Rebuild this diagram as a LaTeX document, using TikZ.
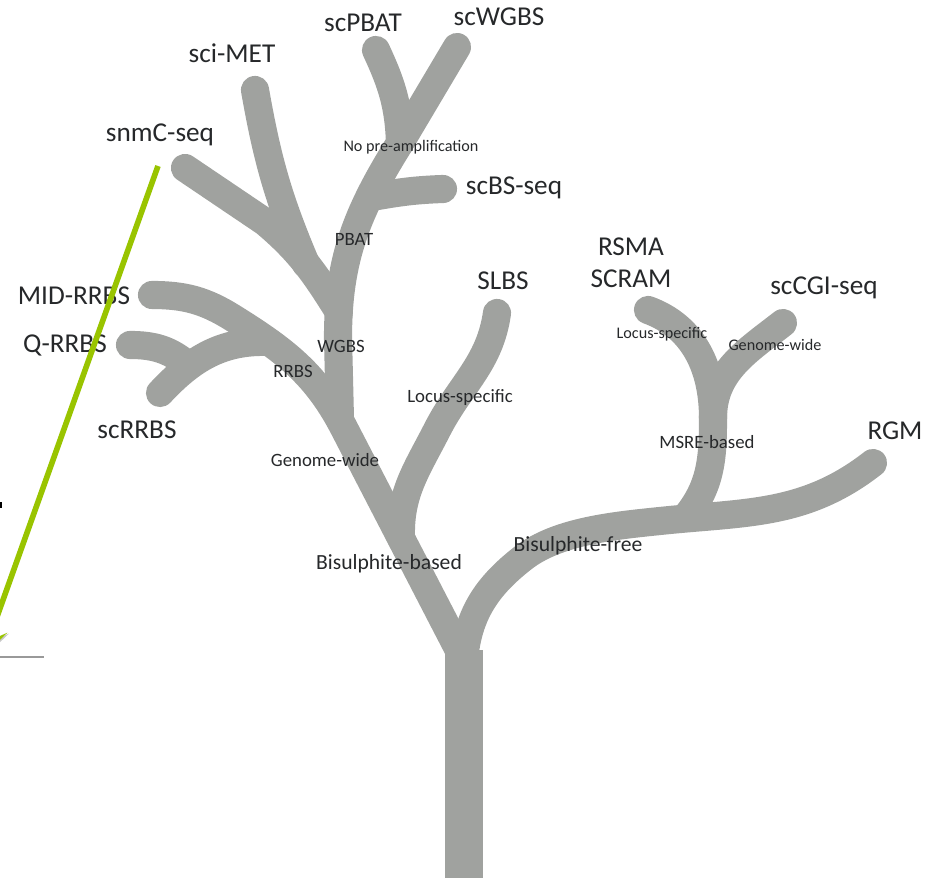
\documentclass[tikz,border=0pt]{standalone}
\usepackage{fontspec}
\usepackage{tikz}
\usetikzlibrary{arrows.meta}
\setmainfont{Carlito}

\definecolor{barkgrey}{HTML}{A0A29F}
\definecolor{inkgrey}{HTML}{26282A}
\definecolor{pointergreen}{HTML}{99C400}

\tikzset{
	branch/.style={draw=barkgrey, line width=16pt, line cap=round},
	trunk/.style={draw=barkgrey, line width=21.5pt},
	leaf/.style={color=inkgrey, inner sep=0pt, font=\fontsize{15.5}{18}\selectfont},
	fork/.style={color=inkgrey, inner sep=0pt, font=\fontsize{12.3}{15}\selectfont},
	stage/.style={color=inkgrey, inner sep=0pt, font=\fontsize{10.7}{13}\selectfont},
	minor/.style={color=inkgrey, inner sep=0pt, font=\fontsize{9.2}{11}\selectfont},
	pointer/.style={draw=pointergreen, line width=3.2pt, -{Stealth[length=17pt,width=17pt,inset=8pt]},
		preaction={draw=black!22, transform canvas={shift={(0.9pt,-0.5pt)}}}}
}

\begin{document}
\begin{tikzpicture}[x=0.02cm, y=0.02cm]
	\clip (0,0) rectangle (937,878);

	% trunk and first split
	\coordinate (root) at (464,0);
	\coordinate (crown) at (464,228);
	\coordinate (split) at (464,218);
	\coordinate (gwjoin) at (345,448);
	\coordinate (midbend) at (233,560);
	\coordinate (midrrbs) at (152,583);
	\draw[trunk](root) -- (crown);
	\draw[branch](split) -- (gwjoin) to [out=117,in=328](midbend) to [out=148,in=0](midrrbs);

	% locus-specific side shoot
	\coordinate (locusjoin) at (401,340);
	\coordinate (locusmid) at (437,448);
	\coordinate (slbs) at (497,565);
	\draw[branch](locusjoin) to [out=92,in=243](locusmid) to [out=63,in=262](slbs);

	% WGBS stem
	\coordinate (wgbsjoin) at (340,458);
	\coordinate (wgbsbend) at (338,540);
	\coordinate (nopreamp) at (400,735);
	\coordinate (scwgbs) at (457,831);
	\draw[branch](wgbsjoin) -- (wgbsbend) to [out=90,in=238](nopreamp) -- (scwgbs);

	% scPBAT and scBS-seq
	\coordinate (scpbat) at (376,828);
	\coordinate (bsjoin) at (372,681);
	\coordinate (scbsseq) at (443,689);
	\draw[branch](nopreamp) to [out=92,in=295](scpbat);
	\draw[branch](bsjoin) to [out=10,in=182](scbsseq);

	% snmC-seq and sci-MET
	\coordinate (snmcjoin) at (339,566);
	\coordinate (snmcbend) at (265,656);
	\coordinate (snmcseq) at (185,710);
	\coordinate (scimetjoin) at (306,614);
	\coordinate (scimet) at (255,788);
	\draw[branch](snmcjoin) to [out=122,in=320](snmcbend) -- (snmcseq);
	\draw[branch](scimetjoin) to [out=113,in=280](scimet);

	% RRBS side shoots
	\coordinate (rrbsjoin) at (269,536);
	\coordinate (scrrbs) at (160,485);
	\coordinate (qjoin) at (188,513);
	\coordinate (qrrbs) at (130,533);
	\draw[branch](rrbsjoin) to [out=178,in=47](scrrbs);
	\draw[branch](qjoin) to [out=140,in=0](qrrbs);

	% bisulphite-free arm
	\coordinate (freecurve) at (523,320);
	\coordinate (freebend) at (660,357);
	\coordinate (rgm) at (873,415);
	\coordinate (msrejoin) at (685,360);
	\coordinate (msremid) at (713,460);
	\coordinate (locustip) at (648,568);
	\coordinate (sccgiseq) at (783,555);
	\draw[branch](split) to [out=85,in=218](freecurve) to [out=38,in=186,looseness=0.8](freebend) to [out=6,in=218](rgm);
	\draw[branch](msrejoin) to [out=50,in=270](msremid) to [out=90,in=340](locustip);
	\draw[branch](msremid) to [out=90,in=218](sccgiseq);

	% end points
	\node[leaf] (snmclabel) at (160,743) {snmC-seq};
	\node[leaf] (scimetlabel) at (232,825) {sci-MET};
	\node[leaf] (scpbatlabel) at (363,855) {scPBAT};
	\node[leaf] (scwgbslabel) at (499,861) {scWGBS};
	\node[leaf] (scbslabel) at (514,690) {scBS-seq};
	\node[leaf] (slbslabel) at (503,597) {SLBS};
	\node[leaf] (rsmalabel) at (631,631) {RSMA};
	\node[leaf] (scramlabel) at (631,599) {SCRAM};
	\node[leaf] (cgilabel) at (824,590) {scCGI-seq};
	\node[leaf] (midlabel) at (74,582) {MID-RRBS};
	\node[leaf] (qlabel) at (65,533) {Q-RRBS};
	\node[leaf] (scrrbslabel) at (137,448) {scRRBS};
	\node[leaf] (rgmlabel) at (895,447) {RGM};

	% labels along the branches
	\node[fork] (basedlabel) at (389,314) {Bisulphite-based};
	\node[fork] (freelabel) at (578,332) {Bisulphite-free};
	\node[stage] (gwlabel) at (325,418) {Genome-wide};
	\node[stage] (locuslabel) at (460,480) {Locus-specific};
	\node[stage] (msrelabel) at (707,436) {MSRE-based};
	\node[stage] (wgbslabel) at (341,532) {WGBS};
	\node[stage] (rrbslabel) at (293,507) {RRBS};
	\node[stage] (pbatlabel) at (354,639) {PBAT};
	\node[minor] (nopreamplabel) at (411,731) {No pre-amplification};
	\node[minor] (locus2label) at (662,544) {Locus-specific};
	\node[minor] (gw2label) at (775,533) {Genome-wide};

	% green pointer and stray rules
	\coordinate (pointerstart) at (158,712);
	\coordinate (pointerend) at (-17,222);
	\coordinate (ruleleft) at (0,221);
	\coordinate (ruleright) at (44,221);
	\coordinate (tickleft) at (0,373);
	\coordinate (tickright) at (2,373);
	\draw[pointer](pointerstart) -- (pointerend);
	\draw[black!40,line width=0.7pt](ruleleft) -- (ruleright);
	\draw[black,line width=3.4pt](tickleft) -- (tickright);
\end{tikzpicture}
\end{document}
